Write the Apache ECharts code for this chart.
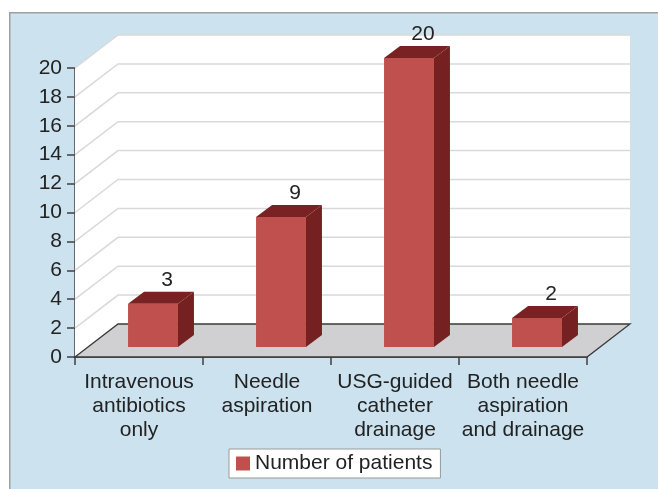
<!DOCTYPE html>
<html>
<head>
<meta charset="utf-8">
<script src="https://cdn.jsdelivr.net/npm/echarts@6/dist/echarts.min.js"></script>
<style>html,body{margin:0;padding:0;background:#fff;}#c{width:658px;height:489px;}</style>
</head>
<body>
<div id="c"></div>
<script>
var categories = ['Intravenous\nantibiotics\nonly', 'Needle\naspiration', 'USG-guided\ncatheter\ndrainage', 'Both needle\naspiration\nand drainage'];
var seriesName = 'Number of patients';
var patients = [3, 9, 20, 2];
var yTicks = [0, 2, 4, 6, 8, 10, 12, 14, 16, 18, 20];

var FONT = '"Liberation Sans", Arial, sans-serif';
var WX = 43, WY = -33;      // wall depth
var FX = 14, FY = -10;      // bar front offset
var DX = 16, DY = -12;      // bar depth

function edges(api, v) {
  var band = api.size([1, 0])[0];
  var l = api.coord([0, v]); var r = api.coord([categories.length - 1, v]);
  return { xl: l[0] - band / 2, xr: r[0] + band / 2, y: l[1] };
}

function renderWalls(params, api) {
  var b = edges(api, 0), t = edges(api, 20);
  return {
    type: 'group', children: [
      { type: 'polygon', shape: { points: [[b.xl, t.y], [b.xl + WX, t.y + WY], [b.xl + WX, b.y + WY], [b.xl, b.y]] }, style: { fill: '#ffffff' } },
      { type: 'polygon', shape: { points: [[b.xl + WX, t.y + WY], [b.xr + WX, t.y + WY], [b.xr + WX, b.y + WY], [b.xl + WX, b.y + WY]] }, style: { fill: '#ffffff' } },
      { type: 'polygon', shape: { points: [[b.xl, b.y], [b.xl + WX, b.y + WY], [b.xr + WX, b.y + WY], [b.xr, b.y]] }, style: { fill: '#d0d0d2', stroke: '#3a3a3a', lineWidth: 1.3 } }
    ]
  };
}

function renderGrid(params, api) {
  var v = api.value(1);
  if (v === 0) return null;
  var e = edges(api, v);
  return { type: 'polyline', shape: { points: [[e.xl, e.y], [e.xl + WX, e.y + WY], [e.xr + WX, e.y + WY]] }, style: { fill: null, stroke: '#d9d9d9', lineWidth: 1.5 } };
}

function renderBar(params, api) {
  var i = api.value(0), v = api.value(1);
  var top = api.coord([i, v]), base = api.coord([i, 0]);
  var band = api.size([1, 0])[0];
  var w = band * 0.39;
  var cx = top[0] + FX;
  var x0 = cx - w / 2, x1 = cx + w / 2;
  var yb = base[1] + FY, yt = top[1] + FY;
  return {
    type: 'group', children: [
      { type: 'rect', shape: { x: x0, y: yt, width: w, height: yb - yt }, style: { fill: '#c0504d' } },
      { type: 'polygon', shape: { points: [[x1, yt], [x1 + DX, yt + DY], [x1 + DX, yb + DY], [x1, yb]] }, style: { fill: '#752021' } },
      { type: 'polygon', shape: { points: [[x0, yt], [x0 + DX, yt + DY], [x1 + DX, yt + DY], [x1, yt]] }, style: { fill: '#7a2223' } },
      { type: 'text', style: { text: String(v), x: cx + 14, y: yt + DY - 1, align: 'center', verticalAlign: 'bottom', fill: '#222', font: '21px ' + FONT } }
    ]
  };
}

var chart = echarts.init(document.getElementById('c'), null, { renderer: 'canvas' });
chart.setOption({
  backgroundColor: '#ffffff',
  animation: false,
  graphic: [{ type: 'rect', left: 9, top: 12, shape: { width: 700, height: 500 }, style: { fill: '#cce3ef', stroke: '#a0a0a0', lineWidth: 1.5 }, z: -10 }],
  grid: { left: 75, right: 71, top: 68, bottom: 132 },
  legend: {
    data: [{ name: seriesName, icon: 'rect' }],
    left: 229, top: 449,
    itemWidth: 14, itemHeight: 14, itemGap: 7,
    backgroundColor: '#fff', borderColor: '#999', borderWidth: 1,
    padding: [4, 8, 4, 7],
    textStyle: { fontSize: 21, color: '#222', fontFamily: FONT }
  },
  xAxis: {
    type: 'category', data: categories,
    axisLine: { lineStyle: { color: '#404040', width: 1.5 } },
    axisTick: { show: true, length: 8, lineStyle: { color: '#404040', width: 1.5 } },
    axisLabel: { interval: 0, fontSize: 21, lineHeight: 24, color: '#222', fontFamily: FONT, margin: 13 },
    splitLine: { show: false }
  },
  yAxis: {
    type: 'value', min: 0, max: 20, interval: 2,
    axisLine: { show: true, lineStyle: { color: '#404040', width: 1.5 } },
    axisTick: { show: true, length: 8, lineStyle: { color: '#404040', width: 1.5 } },
    axisLabel: { fontSize: 21, color: '#222', fontFamily: FONT, margin: 13 },
    splitLine: { show: false }
  },
  series: [
    { type: 'custom', name: 'walls', renderItem: renderWalls, data: [[0, 0]], z: 1, clip: false, silent: true },
    { type: 'custom', name: 'grid', renderItem: renderGrid, data: yTicks.map(function (v) { return [0, v]; }), z: 1.5, clip: false, silent: true },
    { type: 'custom', name: seriesName, renderItem: renderBar, data: patients.map(function (v, i) { return [i, v]; }), itemStyle: { color: '#c0504d' }, z: 3, clip: false, encode: { x: 0, y: 1 } }
  ]
});
</script>
</body>
</html>
